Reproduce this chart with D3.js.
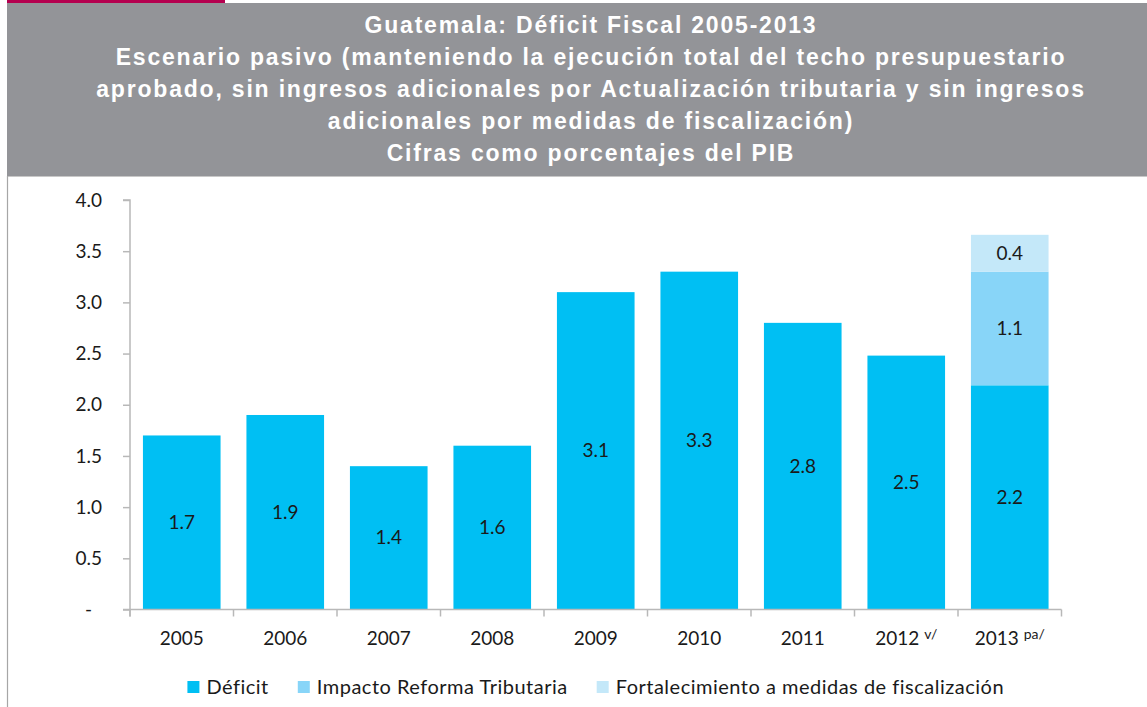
<!DOCTYPE html>
<html>
<head>
<meta charset="utf-8">
<script src="https://cdn.jsdelivr.net/npm/d3@7"></script>
<style>
  body { margin: 0; background: #fff; }
  svg { display: block; }
</style>
</head>
<body>
<div id="chart"></div>
<script>
const width = 1147;
const height = 707;

// data
const years = ["2005", "2006", "2007", "2008", "2009", "2010", "2011", "2012", "2013"];
const yearNotes = ["", "", "", "", "", "", "", "v/", "pa/"];
const deficit = [1.7, 1.9, 1.4, 1.6, 3.1, 3.3, 2.8, 2.48, 2.19];
const impacto = [0, 0, 0, 0, 0, 0, 0, 0, 1.11];
const fortalecimiento = [0, 0, 0, 0, 0, 0, 0, 0, 0.36];
const seriesNames = ["Déficit", "Impacto Reforma Tributaria", "Fortalecimiento a medidas de fiscalización"];
const yTicks = [0, 0.5, 1, 1.5, 2, 2.5, 3, 3.5, 4];
const titleLines = [
  "Guatemala: Déficit Fiscal 2005-2013",
  "Escenario pasivo (manteniendo la ejecución total del techo presupuestario",
  "aprobado, sin ingresos adicionales por Actualización tributaria y sin ingresos",
  "adicionales por medidas de fiscalización)",
  "Cifras como porcentajes del PIB"
];

const colors = ["#00bff3", "#88d5f8", "#c4e8f9"];
const axisColor = "#b8b8b8";

const svg = d3.select("#chart")
  .append("svg")
  .attr("width", width)
  .attr("height", height);

// header band
svg.append("rect")
  .attr("x", 7).attr("y", 3)
  .attr("width", width - 7).attr("height", 173)
  .attr("fill", "#939498");

svg.append("rect")
  .attr("x", 7).attr("y", 0)
  .attr("width", 218).attr("height", 3)
  .attr("fill", "#b5004f");

svg.append("line")
  .attr("x1", 7).attr("x2", width)
  .attr("y1", 176.5).attr("y2", 176.5)
  .attr("stroke", "#c8c8c8");

// left frame line
svg.append("line")
  .attr("x1", 7.5).attr("x2", 7.5)
  .attr("y1", 176).attr("y2", height)
  .attr("stroke", "#a6a6a6")
  .attr("stroke-width", 1.2);

svg.append("g")
  .selectAll("text")
  .data(titleLines)
  .enter()
  .append("text")
  .attr("x", 591)
  .attr("y", (d, i) => 33 + i * 32)
  .attr("text-anchor", "middle")
  .style("font-family", "'Liberation Sans', Arial, sans-serif")
  .style("font-weight", "bold")
  .style("font-size", "23px")
  .style("letter-spacing", "1.8px")
  .style("fill", "#fff")
  .text(d => d);

// scales
const x = d3.scaleBand()
  .domain(years)
  .range([130, 1061.5])
  .paddingInner(0.25)
  .paddingOuter(0.125);

const y = d3.scaleLinear()
  .domain([0, 4])
  .range([609.5, 200]);

const table = years.map((yr, i) => ({
  year: yr,
  [seriesNames[0]]: deficit[i],
  [seriesNames[1]]: impacto[i],
  [seriesNames[2]]: fortalecimiento[i]
}));

const stacked = d3.stack().keys(seriesNames)(table);

const labelFont = "Lato, 'Open Sans', sans-serif";

// bars
const layer = svg.append("g")
  .selectAll("g")
  .data(stacked)
  .enter()
  .append("g")
  .attr("fill", (d, i) => colors[i]);

layer.selectAll("rect")
  .data(d => d)
  .enter()
  .append("rect")
  .attr("x", d => x(d.data.year))
  .attr("y", d => y(d[1]))
  .attr("width", x.bandwidth())
  .attr("height", d => y(d[0]) - y(d[1]));

// value labels
layer.selectAll("text")
  .data(d => d.filter(p => p[1] - p[0] > 0))
  .enter()
  .append("text")
  .attr("x", d => x(d.data.year) + x.bandwidth() / 2)
  .attr("y", d => y((d[0] + d[1]) / 2))
  .attr("dy", "0.35em")
  .attr("text-anchor", "middle")
  .style("font-family", labelFont)
  .style("font-size", "19px")
  .style("fill", "#1a1a1a")
  .text(d => d3.format(".1f")(d[1] - d[0]));

// y axis
const yAxis = svg.append("g")
  .attr("transform", "translate(130,0)")
  .call(d3.axisLeft(y)
    .tickValues(yTicks)
    .tickSize(7)
    .tickPadding(21)
    .tickFormat(d => d === 0 ? "-" : d3.format(".1f")(d)));

yAxis.select(".domain")
  .attr("d", `M-7,${y(4)}H0V${y(0) + 7}`);
yAxis.selectAll("text")
  .style("font-family", labelFont)
  .style("font-size", "19px")
  .style("fill", "#1a1a1a")
  .attr("dx", d => d === 0 ? -10 : 0);

// x axis: ticks at category boundaries
const xAxis = svg.append("g")
  .attr("transform", `translate(0,${y(0)})`)
  .call(d3.axisBottom(x).tickSize(0).tickPadding(22));

xAxis.select(".domain")
  .attr("d", `M123,0H${x.range()[1]}`);

const gap = (x.step() - x.bandwidth()) / 2;
const bounds = years.map(d => x(d) - gap).concat([x.range()[1]]);
xAxis.selectAll(".bound")
  .data(bounds)
  .enter()
  .append("line")
  .attr("class", "bound")
  .attr("x1", d => d).attr("x2", d => d)
  .attr("y1", 0).attr("y2", 7)
  .attr("stroke", axisColor)
  .attr("stroke-width", 1.5);

xAxis.selectAll(".tick text")
  .style("font-family", labelFont)
  .style("font-size", "19px")
  .style("fill", "#1a1a1a")
  .text(null)
  .each(function (d, i) {
    const t = d3.select(this);
    t.append("tspan").text(d);
    if (yearNotes[i]) {
      t.append("tspan")
        .attr("dx", 5)
        .attr("dy", -6)
        .style("font-size", "14px")
        .text(yearNotes[i]);
    }
  });

svg.selectAll(".domain, .tick line")
  .attr("stroke", axisColor)
  .attr("stroke-width", 1.5);

// legend
const legend = svg.append("g").attr("class", "legend");

const legendItem = legend.selectAll(".legend-item")
  .data(seriesNames)
  .enter()
  .append("g")
  .attr("class", "legend-item");

legendItem.append("rect")
  .attr("y", -6)
  .attr("width", 12)
  .attr("height", 12)
  .attr("fill", (d, i) => colors[i]);

legendItem.append("text")
  .attr("x", 19)
  .attr("dy", "0.35em")
  .style("font-family", labelFont)
  .style("font-size", "20px")
  .style("letter-spacing", "0.5px")
  .style("fill", "#1a1a1a")
  .text(d => d);

let offset = 0;
const widths = [];
legendItem.each(function () {
  const w = 19 + this.querySelector("text").getComputedTextLength();
  widths.push(w);
});
const totalW = d3.sum(widths) + 29 * (widths.length - 1);
const startX = (x.range()[0] + x.range()[1]) / 2 - totalW / 2;
legendItem.attr("transform", (d, i) => {
  const tx = startX + offset;
  offset += widths[i] + 29;
  return `translate(${tx},687)`;
});
</script>
</body>
</html>
